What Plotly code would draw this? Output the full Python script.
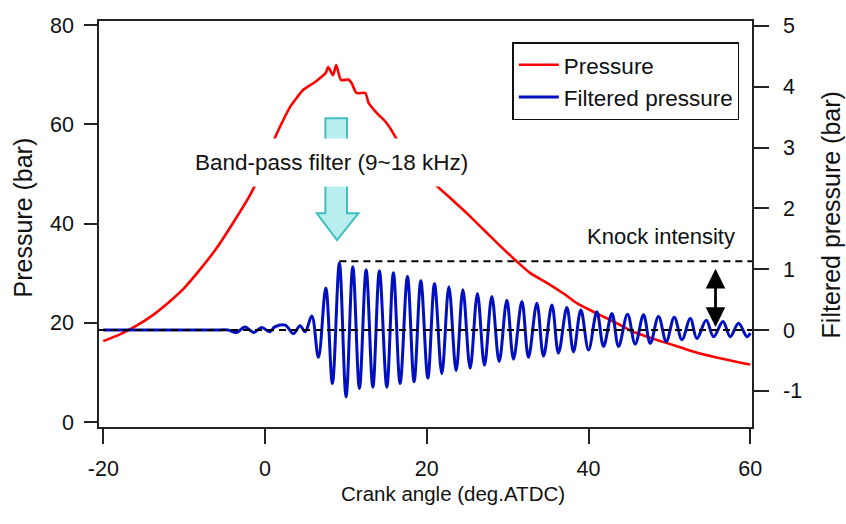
import plotly.graph_objects as go

# ---------------- data ----------------
crank_p = [-20, -18, -16, -14, -12, -10, -8, -6, -4, -2, 0, 1.2, 2, 3.1, 4.0, 4.7,
           5.5, 6.2, 6.8, 7.5, 7.8, 8.4, 8.8, 9.4, 10.3, 10.7, 11.3, 12.4, 12.8,
           13.8, 14.9, 15.6, 16.2, 18.6, 21.1, 23, 25, 27, 29, 31.1, 32.8, 34.9,
           36.9, 38.6, 39.4, 41.5, 43.5, 45.5, 47.6, 49.7, 51.8, 53.8, 56.7, 59.6, 60]
pressure = [16.3, 17.6, 19.3, 21.4, 24.0, 27.0, 30.8, 35.0, 40.0, 45.3, 52.0, 57.2,
            60.0, 63.5, 65.5, 66.9, 67.8, 68.5, 69.3, 70.3, 71.5, 69.9, 71.9, 68.9,
            69.0, 68.3, 66.3, 66.3, 64.3, 62.3, 60.5, 58.9, 57.2, 52.5, 47.8, 45.0,
            42.0, 38.8, 35.6, 32.4, 30.0, 28.0, 25.9, 23.9, 23.2, 21.5, 19.9, 18.2,
            17.0, 15.9, 14.8, 13.8, 12.7, 11.7, 11.6]

crank_f = [-20, -14, -9, -6, -4.6, -3.5, -2.5, -1.4, -0.4, 0.6, 1.2, 2.5, 3.5, 4.33, 4.95, 5.78,
           6.6, 7.51, 8.33, 9.19, 10.02, 10.85, 11.67, 12.5, 13.33, 14.14, 15.06,
           15.87, 16.70, 17.61, 18.43, 19.26, 20.13, 20.95, 21.86, 22.73, 23.63,
           24.46, 25.36, 26.26, 27.13, 28.04, 28.95, 29.9, 30.72, 31.76, 32.57,
           33.61, 34.43, 35.47, 36.28, 37.32, 38.14, 39.05, 40.0, 41.03, 41.85,
           42.89, 43.71, 44.82, 45.77, 46.8, 47.63, 48.65, 49.61, 50.6, 51.55,
           52.58, 53.4, 54.55, 55.46, 56.62, 57.52, 58.55, 59.59, 60]
filtered = [0, 0, 0, 0, 0, -0.04, 0.05, -0.04, 0.04, -0.03, 0.05, 0.08, -0.06, 0.07, -0.03,
            0.23, -0.45, 0.69, -0.88, 1.10, -1.10, 1.04, -0.96, 0.99, -0.94, 0.975,
            -0.94, 0.94, -0.88, 0.88, -0.85, 0.81, -0.79, 0.76, -0.72, 0.71, -0.67,
            0.66, -0.63, 0.60, -0.58, 0.55, -0.52, 0.49, -0.48, 0.47, -0.45, 0.44,
            -0.43, 0.41, -0.38, 0.37, -0.36, 0.33, -0.33, 0.30, -0.27, 0.27, -0.27,
            0.26, -0.23, 0.25, -0.22, 0.22, -0.19, 0.21, -0.16, 0.19, -0.14, 0.16,
            -0.11, 0.14, -0.11, 0.11, -0.11, -0.05]

x_ticks = [-20, 0, 20, 40, 60]
x_tick_labels = ["-20", "0", "20", "40", "60"]
y_ticks = [0, 20, 40, 60, 80]
y_tick_labels = ["0", "20", "40", "60", "80"]
y2_ticks = [-1, 0, 1, 2, 3, 4, 5]
y2_tick_labels = ["-1", "0", "1", "2", "3", "4", "5"]

knock_level = 1.13      # filtered-pressure level of the knock-intensity line
knock_start = 9.19      # crank angle of the largest oscillation peak
knock_arrow_x = 55.7

# ---------------- layout constants ----------------
FONT = "Liberation Sans, Arial, sans-serif"
X_RANGE = [-20.53, 60.21]
Y_RANGE = [-1.0, 80.8]
Y2_RANGE = [-1.595, 5.08]

fig = go.Figure()

fig.add_trace(go.Scatter(
    x=crank_p, y=pressure, name="Pressure", mode="lines",
    line=dict(color="#ff0000", width=2.6, shape="spline", smoothing=0.6),
    yaxis="y"))
fig.add_trace(go.Scatter(
    x=crank_f, y=filtered, name="Filtered pressure", mode="lines",
    line=dict(color="#0010c0", width=3, shape="spline", smoothing=1.0),
    yaxis="y2"))

# dashed reference lines
fig.add_shape(type="line", xref="x", yref="y2", x0=X_RANGE[0], x1=X_RANGE[1],
              y0=0, y1=0, layer="above",
              line=dict(color="black", width=2, dash="7px,5px"))
fig.add_shape(type="line", xref="x", yref="y2", x0=knock_start, x1=X_RANGE[1],
              y0=knock_level, y1=knock_level, layer="above",
              line=dict(color="black", width=2, dash="7px,5px"))

# cyan down arrow (band-pass filter)
sx0, sx1, stop, hbase, hx0, hx1, tipx, tipy = 7.46, 10.14, 61.2, 42.05, 6.40, 11.54, 8.9, 36.67
fig.add_shape(type="path", xref="x", yref="y", layer="above",
              path=(f"M {sx0},{stop} L {sx1},{stop} L {sx1},{hbase} L {hx1},{hbase} "
                    f"L {tipx},{tipy} L {hx0},{hbase} L {sx0},{hbase} Z"),
              fillcolor="#b9eeee", line=dict(color="#3fbfbf", width=2))

fig.add_annotation(x=8.23, y=52.3, xref="x", yref="y",
                   text="Band-pass filter (9~18 kHz)", showarrow=False,
                   font=dict(family=FONT, size=22.5, color="#111"),
                   bgcolor="white", borderpad=11)

fig.add_annotation(x=49.0, y=1.53, xref="x", yref="y2", text="Knock intensity",
                   showarrow=False, font=dict(family=FONT, size=22, color="#111"))

# double-headed arrow for knock intensity
fig.add_annotation(x=knock_arrow_x, y=0.05, ax=knock_arrow_x, ay=1.03,
                   xref="x", yref="y2", axref="x", ayref="y2", text="",
                   showarrow=True, arrowhead=2, startarrowhead=2,
                   arrowside="end+start", arrowwidth=2.8, arrowsize=1.4,
                   startarrowsize=1.4, arrowcolor="black")

# axis titles
fig.add_annotation(x=-0.1164, y=0.516, xref="paper", yref="paper",
                   text="Pressure (bar)", textangle=-90, showarrow=False,
                   xanchor="center", yanchor="middle",
                   font=dict(family=FONT, size=25, color="#111"))
fig.add_annotation(x=1.1215, y=0.522, xref="paper", yref="paper",
                   text="Filtered pressure (bar)", textangle=-90, showarrow=False,
                   xanchor="center", yanchor="middle",
                   font=dict(family=FONT, size=25, color="#111"))
fig.add_annotation(x=0.5424, y=-0.1626, xref="paper", yref="paper",
                   text="Crank angle (deg.ATDC)", showarrow=False,
                   xanchor="center", yanchor="middle",
                   font=dict(family=FONT, size=20.5, color="#111"))

axis_common = dict(showgrid=False, zeroline=False, showline=True, linecolor="#222",
                   linewidth=1.5, ticks="outside", tickcolor="#222", tickwidth=1.5,
                   tickfont=dict(family=FONT, size=21.5, color="#111"))

fig.update_layout(
    width=846, height=524,
    margin=dict(l=99, r=94, t=21, b=97),
    paper_bgcolor="white", plot_bgcolor="white",
    xaxis=dict(range=X_RANGE, tickmode="array", tickvals=x_ticks,
               ticktext=x_tick_labels, ticklen=15, mirror=True,
               ticklabelstandoff=6, **axis_common),
    yaxis=dict(range=Y_RANGE, tickmode="array", tickvals=y_ticks,
               ticktext=y_tick_labels, ticklen=13, ticklabelstandoff=6,
               **axis_common),
    yaxis2=dict(range=Y2_RANGE, tickmode="array", tickvals=y2_ticks,
                ticktext=y2_tick_labels, ticklen=15, overlaying="y", side="right",
                ticklabelstandoff=10, **axis_common),
    showlegend=True,
    legend=dict(x=0.633, y=0.948, xanchor="left", yanchor="top",
                bgcolor="white", bordercolor="#111", borderwidth=1.5,
                font=dict(family=FONT, size=22.5, color="#111"),
                traceorder="normal", itemwidth=40, tracegroupgap=0),
)

fig.write_html("out.html")
